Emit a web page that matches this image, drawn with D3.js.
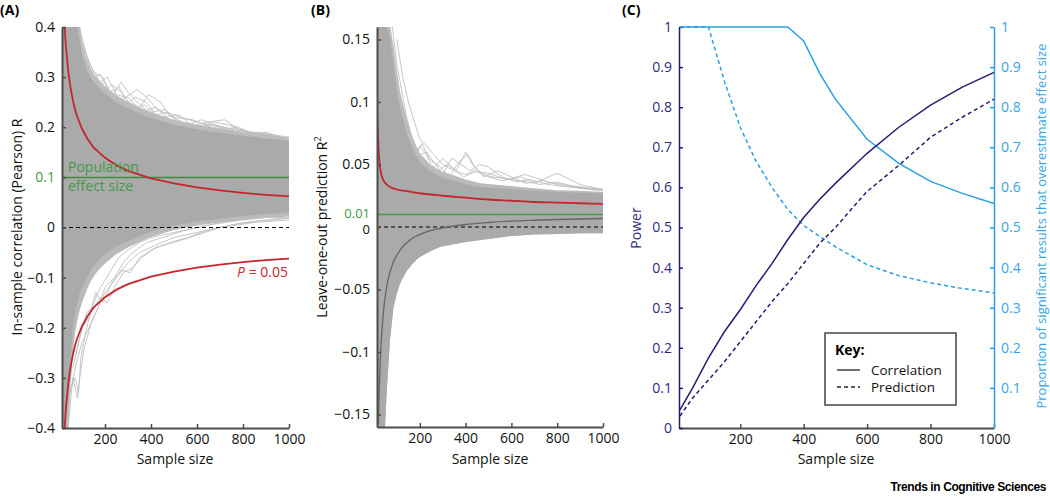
<!DOCTYPE html>
<html>
<head>
<meta charset="utf-8">
<script src="https://cdn.jsdelivr.net/npm/d3@7"></script>
<style>
  body { margin: 0; background: #fff; }
  svg { font-family: "Open Sans", Lato, sans-serif; }
</style>
</head>
<body>
<div id="chart"></div>
<script>
// ---------- panel A: in-sample correlation ----------
const bandNA = [13, 20, 30, 40, 50, 60, 70, 80, 90, 100, 120, 140, 160, 180, 200, 250, 300, 350, 400, 500, 600, 700, 800, 900, 1000];
const bandTopA = [0.4, 0.4, 0.4, 0.4, 0.4, 0.4, 0.4, 0.4, 0.375, 0.345, 0.315, 0.298, 0.286, 0.276, 0.267, 0.25, 0.237, 0.227, 0.218, 0.205, 0.196, 0.189, 0.183, 0.178, 0.173];
const bandBotA = [-0.4, -0.4, -0.4, -0.34, -0.27, -0.2, -0.17, -0.15, -0.13, -0.12, -0.1, -0.085, -0.072, -0.062, -0.054, -0.038, -0.027, -0.017, -0.008, 0.004, 0.012, 0.018, 0.023, 0.027, 0.03];
const fringeTopA = [0.4, 0.4, 0.4, 0.4, 0.4, 0.4, 0.4, 0.4, 0.4, 0.37, 0.335, 0.315, 0.3, 0.29, 0.282, 0.264, 0.25, 0.239, 0.23, 0.215, 0.205, 0.198, 0.191, 0.186, 0.18];
const fringeBotA = [-0.4, -0.4, -0.4, -0.4, -0.32, -0.25, -0.21, -0.185, -0.165, -0.15, -0.125, -0.105, -0.092, -0.081, -0.072, -0.053, -0.04, -0.029, -0.019, -0.005, 0.004, 0.01, 0.015, 0.019, 0.022];

// stray simulation runs outside the dense band: [sample size, r]
const strayA = [
  [[80, 0.40], [110, 0.33], [140, 0.30], [170, 0.28], [200, 0.29], [240, 0.25], [280, 0.24], [330, 0.26], [380, 0.25], [430, 0.22], [500, 0.21], [560, 0.20], [640, 0.21], [720, 0.215], [800, 0.19], [900, 0.18], [1000, 0.18]],
  [[90, 0.40], [120, 0.34], [150, 0.31], [190, 0.30], [220, 0.27], [260, 0.28], [300, 0.25], [350, 0.24], [390, 0.265], [440, 0.25], [490, 0.22], [540, 0.21], [600, 0.20], [680, 0.205], [760, 0.195], [840, 0.19], [920, 0.185], [1000, 0.175]],
  [[70, 0.40], [100, 0.35], [130, 0.31], [160, 0.29], [200, 0.27], [230, 0.285], [270, 0.27], [310, 0.245], [360, 0.23], [420, 0.24], [480, 0.215], [560, 0.205], [620, 0.215], [700, 0.2], [780, 0.19], [860, 0.19], [1000, 0.18]],
  [[100, 0.37], [140, 0.32], [180, 0.29], [210, 0.30], [250, 0.265], [290, 0.26], [340, 0.275], [380, 0.26], [430, 0.235], [500, 0.22], [580, 0.215], [660, 0.2], [740, 0.195], [820, 0.185], [900, 0.19], [1000, 0.175]],
  [[120, 0.32], [160, 0.30], [200, 0.28], [240, 0.26], [280, 0.25], [330, 0.235], [370, 0.245], [420, 0.225], [470, 0.23], [530, 0.22], [600, 0.21], [700, 0.2], [800, 0.195], [900, 0.18], [1000, 0.17]],
  [[60, 0.40], [90, 0.36], [120, 0.33], [150, 0.3], [180, 0.305], [220, 0.27], [260, 0.255], [300, 0.26], [340, 0.24], [400, 0.23], [460, 0.235], [520, 0.21], [600, 0.2], [680, 0.19], [760, 0.2], [850, 0.185], [1000, 0.17]],
  [[110, 0.36], [150, 0.29], [190, 0.285], [230, 0.26], [270, 0.29], [300, 0.27], [340, 0.25], [390, 0.23], [450, 0.22], [520, 0.225], [590, 0.2], [680, 0.21], [780, 0.2], [880, 0.18], [1000, 0.178]],
  [[30, -0.40], [50, -0.32], [70, -0.30], [85, -0.33], [95, -0.26], [120, -0.2], [150, -0.15], [180, -0.12], [220, -0.09], [260, -0.06], [300, -0.045], [350, -0.03], [400, -0.02], [500, -0.01], [600, 0.0], [700, 0.01], [800, 0.015], [900, 0.02], [1000, 0.025]],
  [[40, -0.40], [60, -0.30], [80, -0.34], [90, -0.30], [110, -0.24], [140, -0.19], [170, -0.16], [200, -0.12], [240, -0.10], [280, -0.07], [320, -0.05], [380, -0.03], [450, -0.02], [550, -0.005], [650, 0.005], [750, 0.012], [850, 0.02], [1000, 0.02]],
  [[60, -0.28], [90, -0.22], [120, -0.17], [150, -0.16], [180, -0.14], [210, -0.15], [240, -0.12], [280, -0.09], [320, -0.08], [360, -0.06], [420, -0.04], [500, -0.03], [600, -0.015], [700, 0.0], [800, 0.01], [1000, 0.02]],
  [[70, -0.26], [100, -0.2], [130, -0.18], [160, -0.13], [190, -0.15], [230, -0.11], [270, -0.085], [310, -0.09], [350, -0.06], [400, -0.045], [480, -0.03], [560, -0.02], [650, -0.005], [750, 0.005], [850, 0.012], [1000, 0.018]],
  [[50, -0.33], [75, -0.27], [100, -0.23], [130, -0.2], [160, -0.17], [200, -0.13], [250, -0.1], [300, -0.07], [350, -0.05], [420, -0.035], [500, -0.02], [600, -0.01], [700, 0.0], [850, 0.01], [1000, 0.015]]
];

// P = 0.05 threshold for r
const critNA = [13, 15, 20, 25, 30, 40, 50, 60, 70, 80, 100, 125, 150, 200, 250, 300, 400, 500, 600, 700, 800, 900, 1000];
const critA = [0.553, 0.514, 0.444, 0.396, 0.361, 0.312, 0.279, 0.254, 0.235, 0.220, 0.197, 0.176, 0.160, 0.139, 0.124, 0.113, 0.098, 0.088, 0.080, 0.074, 0.069, 0.065, 0.062];
const ticksYA = [0.4, 0.3, 0.2, 0.1, 0, -0.1, -0.2, -0.3, -0.4];
const effectA = 0.1;

// ---------- panel B: leave-one-out prediction R2 ----------
const bandNB = [13, 20, 30, 40, 48, 56, 70, 85, 100, 114, 143, 170, 187, 200, 250, 290, 400, 465, 582, 700, 800, 900, 1000];
const bandTopB = [0.16, 0.16, 0.16, 0.16, 0.16, 0.16, 0.15, 0.13, 0.11, 0.095, 0.075, 0.062, 0.056, 0.052, 0.044, 0.04, 0.034, 0.032, 0.0305, 0.029, 0.028, 0.0275, 0.027];
const bandBotB = [-0.16, -0.16, -0.16, -0.16, -0.16, -0.13, -0.09, -0.064, -0.053, -0.045, -0.035, -0.029, -0.026, -0.024, -0.019, -0.0157, -0.012, -0.0104, -0.0075, -0.006, -0.0055, -0.005, -0.005];
const fringeTopB = [0.16, 0.16, 0.16, 0.16, 0.16, 0.16, 0.16, 0.145, 0.125, 0.108, 0.086, 0.071, 0.064, 0.059, 0.049, 0.045, 0.038, 0.035, 0.033, 0.031, 0.0295, 0.029, 0.028];
const strayB = [
  [[60, 0.16], [80, 0.12], [100, 0.1], [120, 0.08], [140, 0.07], [160, 0.06], [180, 0.055], [200, 0.065], [220, 0.06], [250, 0.05], [280, 0.045], [320, 0.05], [360, 0.045], [400, 0.06], [430, 0.05], [470, 0.042], [520, 0.04], [600, 0.038], [700, 0.035], [800, 0.043], [900, 0.034], [1000, 0.03]],
  [[70, 0.16], [90, 0.13], [110, 0.1], [130, 0.085], [150, 0.075], [170, 0.068], [190, 0.06], [210, 0.067], [240, 0.055], [270, 0.05], [300, 0.042], [340, 0.055], [380, 0.05], [420, 0.045], [460, 0.05], [500, 0.048], [560, 0.04], [620, 0.036], [680, 0.038], [760, 0.034], [850, 0.032], [1000, 0.029]],
  [[80, 0.16], [100, 0.13], [120, 0.11], [140, 0.09], [160, 0.075], [180, 0.065], [200, 0.058], [230, 0.06], [260, 0.052], [290, 0.048], [330, 0.04], [370, 0.052], [410, 0.058], [440, 0.048], [480, 0.04], [540, 0.045], [600, 0.04], [660, 0.035], [740, 0.037], [820, 0.033], [1000, 0.03]],
  [[100, 0.15], [125, 0.12], [150, 0.1], [175, 0.085], [200, 0.07], [230, 0.065], [260, 0.058], [300, 0.05], [350, 0.045], [400, 0.042], [450, 0.046], [500, 0.04], [560, 0.037], [640, 0.04], [720, 0.034], [800, 0.036], [900, 0.031], [1000, 0.029]],
  [[60, 0.16], [75, 0.14], [95, 0.12], [115, 0.1], [135, 0.08], [160, 0.07], [190, 0.06], [220, 0.05], [260, 0.047], [300, 0.055], [340, 0.048], [390, 0.04], [440, 0.044], [500, 0.043], [580, 0.038], [660, 0.042], [760, 0.036], [860, 0.033], [1000, 0.03]]
];
const meanNB = [19, 22, 26, 32, 41, 55, 70, 85, 120, 160, 220, 290, 400, 500, 600, 700, 800, 900, 1000];
const meanB = [-0.158, -0.135, -0.113, -0.09, -0.068, -0.048, -0.036, -0.028, -0.017, -0.01, -0.0045, -0.001, 0.002, 0.0036, 0.0047, 0.0054, 0.006, 0.0064, 0.0068];
const critNB = [13, 15, 18, 22, 27, 35, 50, 70, 100, 150, 200, 300, 400, 500, 600, 700, 800, 900, 1000];
const critB = [0.10, 0.085, 0.07, 0.056, 0.047, 0.040, 0.035, 0.032, 0.030, 0.0285, 0.027, 0.025, 0.0235, 0.022, 0.021, 0.020, 0.0195, 0.019, 0.0185];
const ticksYB = [0.15, 0.1, 0.05, 0.01, 0, -0.05, -0.1, -0.15];
const effectB = 0.01;

// ---------- panel C: power and overestimation ----------
const powerN = [10, 50, 100, 150, 200, 250, 300, 350, 400, 450, 500, 600, 700, 800, 900, 1000];
const powerCorr = [0.045, 0.10, 0.175, 0.24, 0.295, 0.355, 0.41, 0.47, 0.525, 0.57, 0.61, 0.685, 0.75, 0.805, 0.85, 0.887];
const powerPred = [0.03, 0.075, 0.12, 0.165, 0.215, 0.265, 0.315, 0.36, 0.41, 0.46, 0.50, 0.59, 0.655, 0.725, 0.775, 0.82];
const overCorrN = [10, 100, 200, 300, 350, 400, 450, 500, 600, 700, 800, 900, 1000];
const overCorr = [1, 1, 1, 1, 1, 0.965, 0.885, 0.82, 0.72, 0.66, 0.615, 0.585, 0.56];
const overPredN = [10, 100, 150, 200, 250, 300, 350, 400, 450, 500, 600, 700, 800, 900, 1000];
const overPred = [1, 1, 0.865, 0.75, 0.665, 0.6, 0.545, 0.505, 0.478, 0.452, 0.407, 0.38, 0.362, 0.348, 0.337];
const ticksLeftC = [0, 0.1, 0.2, 0.3, 0.4, 0.5, 0.6, 0.7, 0.8, 0.9, 1];
const ticksRightC = [0.1, 0.2, 0.3, 0.4, 0.5, 0.6, 0.7, 0.8, 0.9, 1];
const ticksX = [200, 400, 600, 800, 1000];

const navy = "#271c72", navyText = "#2e2a80", sky = "#2a9fe2", skyText = "#35a5e6";
const red = "#c4262e", green = "#3f9c45", greenLine = "#3e8a43";
const axisGrey = "#4d4d4d";
const FS = 14;

const svg = d3.select("#chart").append("svg")
  .attr("width", 1050).attr("height", 498);

const fmt = d => d === 0 ? "0" : (d < 0 ? "\u2212" : "") + Math.abs(d);
const fmtX = d3.format("d");
const zip = (xs, ys) => xs.map((n, i) => [n, ys[i]]);

function styleAxis(g, color, textColor) {
  g.select(".domain").attr("stroke", color).attr("stroke-width", 2);
  g.selectAll(".tick line").attr("stroke", color).attr("stroke-width", 1.5);
  g.selectAll(".tick text").attr("fill", textColor).attr("font-size", FS)
    .attr("font-family", "'Open Sans', sans-serif");
}

function bandPath(x, y, ns, top, bot) {
  const pts = ns.map((n, i) => [x(n), y(top[i])])
    .concat(ns.map((n, i) => [x(n), y(bot[i])]).reverse());
  return d3.line()(pts) + "Z";
}

// ================= Panel A =================
{
  const x = d3.scaleLinear().domain([13, 1000]).range([62, 289]);
  const y = d3.scaleLinear().domain([-0.4, 0.4]).range([428, 27]);
  const g = svg.append("g");
  svg.append("clipPath").attr("id", "clipA").append("rect")
    .attr("x", 62).attr("y", 27).attr("width", 227).attr("height", 401);
  const plot = g.append("g").attr("clip-path", "url(#clipA)");
  const line = d3.line().x(d => x(d[0])).y(d => y(d[1]));

  plot.append("path").attr("d", bandPath(x, y, bandNA, fringeTopA, fringeBotA)).attr("fill", "#bababa");
  plot.selectAll(".stray").data(strayA).enter().append("path")
    .attr("d", line).attr("fill", "none").attr("stroke", "#c0c0c0").attr("stroke-width", 0.9);
  plot.append("path").attr("d", bandPath(x, y, bandNA, bandTopA, bandBotA)).attr("fill", "#aaaaaa");

  plot.append("line").attr("x1", x(13)).attr("x2", x(1000))
    .attr("y1", y(effectA)).attr("y2", y(effectA))
    .attr("stroke", greenLine).attr("stroke-width", 1.5);
  plot.append("line").attr("x1", x(13)).attr("x2", x(1000))
    .attr("y1", y(0)).attr("y2", y(0))
    .attr("stroke", "#000").attr("stroke-width", 1.2).attr("stroke-dasharray", "4,3");
  plot.append("path").attr("d", line(zip(critNA, critA)))
    .attr("fill", "none").attr("stroke", red).attr("stroke-width", 1.8);
  plot.append("path").attr("d", line(zip(critNA, critA.map(v => -v))))
    .attr("fill", "none").attr("stroke", red).attr("stroke-width", 1.8);

  const ya = g.append("g").attr("transform", "translate(62,0)")
    .call(d3.axisLeft(y).tickValues(ticksYA).tickFormat(fmt).tickSize(-4).tickSizeOuter(0).tickPadding(7));
  styleAxis(ya, axisGrey, "#111");
  ya.selectAll(".tick text").filter(d => d === effectA).attr("fill", green);
  const xa = g.append("g").attr("transform", "translate(0,428)")
    .call(d3.axisBottom(x).tickValues(ticksX).tickFormat(fmtX).tickSize(-4).tickSizeOuter(0).tickPadding(6));
  styleAxis(xa, axisGrey, "#111");

  g.append("text").attr("x", 68).attr("y", 172).attr("fill", green).attr("font-size", FS).text("Population");
  g.append("text").attr("x", 68).attr("y", 191).attr("fill", green).attr("font-size", FS).text("effect size");
  const pt = g.append("text").attr("x", 288).attr("y", 277).attr("text-anchor", "end")
    .attr("fill", red).attr("font-size", FS);
  pt.append("tspan").attr("font-style", "italic").text("P");
  pt.append("tspan").text(" = 0.05");

  g.append("text").attr("transform", "translate(22,227) rotate(-90)").attr("text-anchor", "middle")
    .attr("font-size", FS).attr("fill", "#111").text("In-sample correlation (Pearson) R");
  g.append("text").attr("x", 175).attr("y", 464).attr("text-anchor", "middle")
    .attr("font-size", FS).attr("fill", "#111").text("Sample size");
  g.append("text").attr("x", 0).attr("y", 15).attr("font-size", 14).attr("font-weight", "bold").text("(A)");
}

// ================= Panel B =================
{
  const x = d3.scaleLinear().domain([13, 1000]).range([377, 603]);
  const y = d3.scaleLinear().domain([-0.16, 0.16]).range([427, 27]);
  const g = svg.append("g");
  svg.append("clipPath").attr("id", "clipB").append("rect")
    .attr("x", 377).attr("y", 27).attr("width", 226).attr("height", 400);
  const plot = g.append("g").attr("clip-path", "url(#clipB)");
  const line = d3.line().x(d => x(d[0])).y(d => y(d[1]));
  const smooth = d3.line().curve(d3.curveMonotoneX).x(d => x(d[0])).y(d => y(d[1]));

  plot.append("path").attr("d", bandPath(x, y, bandNB, fringeTopB, bandBotB)).attr("fill", "#bababa");
  plot.selectAll(".stray").data(strayB).enter().append("path")
    .attr("d", line).attr("fill", "none").attr("stroke", "#c0c0c0").attr("stroke-width", 0.9);
  plot.append("path").attr("d", bandPath(x, y, bandNB, bandTopB, bandBotB)).attr("fill", "#aaaaaa");

  plot.append("line").attr("x1", x(13)).attr("x2", x(1000))
    .attr("y1", y(effectB)).attr("y2", y(effectB))
    .attr("stroke", "#3aa047").attr("stroke-width", 1.5);
  plot.append("line").attr("x1", x(13)).attr("x2", x(1000))
    .attr("y1", y(0)).attr("y2", y(0))
    .attr("stroke", "#000").attr("stroke-width", 1.2).attr("stroke-dasharray", "4,3");
  plot.append("path").attr("d", smooth(zip(meanNB, meanB)))
    .attr("fill", "none").attr("stroke", "#666").attr("stroke-width", 1.3);
  plot.append("path").attr("d", smooth(zip(critNB, critB)))
    .attr("fill", "none").attr("stroke", red).attr("stroke-width", 1.8);

  const ya = g.append("g").attr("transform", "translate(377,0)")
    .call(d3.axisLeft(y).tickValues(ticksYB).tickFormat(fmt).tickSize(-4).tickSizeOuter(0).tickPadding(7));
  styleAxis(ya, axisGrey, "#111");
  ya.selectAll(".tick").filter(d => d === effectB).select("line").remove();
  ya.selectAll(".tick text").filter(d => d === effectB).attr("fill", green)
    .attr("font-size", 13).attr("dy", "0.2em");
  ya.selectAll(".tick text").filter(d => d === 0).attr("font-size", 13).attr("dy", "0.5em");
  const xa = g.append("g").attr("transform", "translate(0,427)")
    .call(d3.axisBottom(x).tickValues(ticksX).tickFormat(fmtX).tickSize(-4).tickSizeOuter(0).tickPadding(6));
  styleAxis(xa, axisGrey, "#111");

  const lab = g.append("text").attr("transform", "translate(327,227) rotate(-90)").attr("text-anchor", "middle")
    .attr("font-size", FS).attr("fill", "#111");
  lab.append("tspan").text("Leave-one-out prediction R");
  lab.append("tspan").attr("font-size", 9).attr("dy", -6).text("2");
  g.append("text").attr("x", 490).attr("y", 464).attr("text-anchor", "middle")
    .attr("font-size", FS).attr("fill", "#111").text("Sample size");
  g.append("text").attr("x", 311).attr("y", 15).attr("font-size", 14).attr("font-weight", "bold").text("(B)");
}

// ================= Panel C =================
{
  const x = d3.scaleLinear().domain([7, 1000]).range([679, 994]);
  const y = d3.scaleLinear().domain([0, 1]).range([428, 27]);
  const g = svg.append("g");
  const line = d3.line().x(d => x(d[0])).y(d => y(d[1]));

  const xa = g.append("g").attr("transform", "translate(0,428)")
    .call(d3.axisBottom(x).tickValues(ticksX).tickFormat(fmtX).tickSize(-4).tickSizeOuter(0).tickPadding(6));
  styleAxis(xa, axisGrey, "#111");
  const yl = g.append("g").attr("transform", "translate(679,0)")
    .call(d3.axisLeft(y).tickValues(ticksLeftC).tickFormat(fmt).tickSize(-4).tickSizeOuter(0).tickPadding(7));
  styleAxis(yl, navy, navyText);
  yl.select(".domain").attr("stroke-width", 1.5);
  const yr = g.append("g").attr("transform", "translate(994,0)")
    .call(d3.axisRight(y).tickValues(ticksRightC).tickFormat(fmt).tickSize(-4).tickSizeOuter(0).tickPadding(7));
  styleAxis(yr, sky, skyText);
  yr.select(".domain").attr("stroke-width", 1.5);

  g.append("path").attr("d", line(zip(overPredN, overPred))).attr("fill", "none")
    .attr("stroke", sky).attr("stroke-width", 1.5).attr("stroke-dasharray", "4,3");
  g.append("path").attr("d", line(zip(overCorrN, overCorr))).attr("fill", "none")
    .attr("stroke", sky).attr("stroke-width", 1.5);
  g.append("path").attr("d", line(zip(powerN, powerPred))).attr("fill", "none")
    .attr("stroke", navy).attr("stroke-width", 1.5).attr("stroke-dasharray", "4,3");
  g.append("path").attr("d", line(zip(powerN, powerCorr))).attr("fill", "none")
    .attr("stroke", navy).attr("stroke-width", 1.5);

  // key
  const key = g.append("g");
  key.append("rect").attr("x", 825).attr("y", 333).attr("width", 131).attr("height", 72)
    .attr("fill", "#fff").attr("stroke", "#444").attr("stroke-width", 1.5);
  key.append("text").attr("x", 835).attr("y", 355).attr("font-size", 14).attr("font-weight", "bold").text("Key:");
  key.append("line").attr("x1", 837).attr("x2", 860).attr("y1", 370).attr("y2", 370)
    .attr("stroke", "#222").attr("stroke-width", 1.3);
  key.append("line").attr("x1", 837).attr("x2", 860).attr("y1", 387).attr("y2", 387)
    .attr("stroke", "#222").attr("stroke-width", 1.3).attr("stroke-dasharray", "4,3");
  key.append("text").attr("x", 871).attr("y", 375).attr("font-size", 13.5).attr("fill", "#111").text("Correlation");
  key.append("text").attr("x", 871).attr("y", 392).attr("font-size", 13.5).attr("fill", "#111").text("Prediction");

  g.append("text").attr("transform", "translate(641,228) rotate(-90)").attr("text-anchor", "middle")
    .attr("font-size", FS).attr("fill", navyText).text("Power");
  g.append("text").attr("transform", "translate(1046,226) rotate(-90)").attr("text-anchor", "middle")
    .attr("font-size", 13).attr("fill", skyText).text("Proportion of significant results that overestimate effect size");
  g.append("text").attr("x", 836).attr("y", 464).attr("text-anchor", "middle")
    .attr("font-size", FS).attr("fill", "#111").text("Sample size");
  g.append("text").attr("x", 622).attr("y", 15).attr("font-size", 14).attr("font-weight", "bold").text("(C)");
}

svg.append("text").attr("x", 1046).attr("y", 491).attr("text-anchor", "end")
  .attr("font-family", "'Liberation Sans', Arial, sans-serif").attr("font-weight", "bold")
  .attr("font-size", 12).attr("letter-spacing", -0.4)
  .text("Trends in Cognitive Sciences");
</script>
</body>
</html>
